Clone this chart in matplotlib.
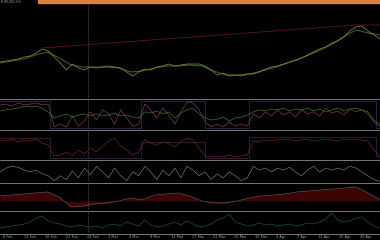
import numpy as np
from matplotlib import pyplot as plt
from matplotlib.lines import Line2D

# price (close) and moving average, main window
price = [38, 39, 40, 41, 43, 44, 47, 51, 49, 43, 37, 30, 36, 32, 30, 33,
         32, 33, 34, 33, 32, 28, 24, 28, 31, 30, 33, 34, 36, 34, 35, 36,
         36, 36, 34, 30, 25, 27, 24, 25, 24, 26, 26, 28, 31, 33, 34, 36,
         38, 40, 42, 45, 48, 51, 53, 57, 59, 63, 69, 73, 74, 69, 65, 61]
ma = [37, 39, 41, 45, 48, 42, 35, 33, 33, 33, 32, 28, 29, 32, 34, 34,
      35, 34, 29, 25, 25, 26, 29, 32, 36, 40, 45, 50, 56, 64, 70, 67, 65]
trend_x = [21, 177, 189]
trend_y = [52, 75, 75]

# stochastic-like window
stoch_green = [62, 66, 69, 72, 79, 76, 79, 72, 59, 38, 45, 52, 41, 48, 52, 45,
               52, 45, 48, 55, 45, 48, 41, 38, 59, 55, 62, 52, 59, 38, 55, 66,
               72, 52, 38, 31, 34, 41, 28, 38, 41, 48, 59, 66, 62, 69, 66, 72,
               62, 69, 66, 72, 62, 69, 59, 66, 72, 62, 69, 72, 66, 59, 31, 14]
stoch_pink = [83, 86, 79, 90, 83, 86, 90, 83, 86, 7, 17, 7, 45, 10, 28, 59,
              31, 66, 52, 17, 66, 38, 10, 17, 86, 66, 38, 72, 48, 17, 59, 93,
              90, 66, 24, 7, 17, 7, 24, 10, 17, 10, 52, 38, 59, 45, 66, 48,
              59, 41, 66, 52, 59, 45, 72, 55, 62, 48, 69, 59, 66, 52, 24, 7]
step_x = [0, 25, 25, 70, 70, 102, 102, 124, 124, 187, 187, 189]
step2_y = [97, 97, 3, 3, 97, 97, 3, 3, 97, 97, 3, 3]

# second oscillator window
osc_red = [68, 64, 71, 61, 68, 64, 71, 57, 50, 11, 14, 25, 11, 32, 18, 39,
           25, 46, 64, 75, 46, 32, 14, 25, 68, 57, 50, 61, 54, 43, 64, 75,
           68, 39, 11, 7, 11, 7, 14, 7, 11, 14, 64, 61, 68, 64, 71, 68,
           71, 64, 68, 71, 64, 68, 71, 68, 64, 71, 68, 71, 68, 64, 32, 11]
step3_y = [75, 75, 5, 5, 60, 60, 5, 5, 78, 78, 10, 10]

# rsi-like window
rsi = [48, 67, 76, 71, 57, 48, 57, 38, 29, 5, 29, 10, 52, 19, 67, 33,
       76, 48, 19, 67, 29, 5, 48, 29, 76, 48, 10, 57, 29, 67, 19, 76,
       57, 29, 48, 10, 38, 19, 48, 29, 5, 19, 76, 57, 67, 48, 67, 57,
       71, 48, 29, 57, 76, 48, 67, 57, 67, 57, 76, 67, 48, 29, 10, 0]

# macd-like window
macd = [5, 6, 7, 8, 9, 4, -6, -5, -3, -2, 0, 3, 1, 6, 7, 8,
        5, 0, -2, -2, 0, 3, 5, 6, 7, 9, 10, 11, 12, 13, 14, 8, 1]

# atr-like window
atr = [5, 6, 7, 8, 9, 11, 15, 17, 12, 10, 9, 7, 6, 8, 7, 6,
       7, 5, 8, 9, 7, 11, 9, 7, 13, 8, 6, 7, 9, 11, 8, 12,
       9, 6, 7, 9, 13, 15, 19, 11, 9, 7, 8, 10, 8, 9, 7, 8,
       9, 7, 8, 10, 9, 11, 14, 20, 13, 11, 12, 15, 16, 11, 7, 5]

date_labels = ['8 Feb', '11 Feb', '16 Feb', '21 Feb', '24 Feb', '1 Mar',
               '4 Mar', '9 Mar', '14 Mar', '17 Mar', '22 Mar', '25 Mar',
               '30 Mar', '4 Apr', '7 Apr', '12 Apr', '15 Apr', '20 Apr']
cursor_bar = 44
n_bars = 189

W, H = 380, 240
fig = plt.figure(figsize=(W / 100, H / 100), dpi=100, facecolor='black')


def panel(top, bottom):
    ax = fig.add_axes([0, 1 - bottom / H, 1, (bottom - top) / H])
    ax.set_facecolor('black')
    ax.set_axis_off()
    ax.set_xlim(0, n_bars)
    ax.axvline(cursor_bar, color='#5a5a5a', lw=0.6, ls=(0, (1, 1)))
    return ax


def xs(vals):
    return np.linspace(0, n_bars, len(vals))


# main chart
ax = panel(4, 98)
ax.set_ylim(2, 96)
ax.plot(trend_x, trend_y, color='#5e1616', lw=0.6)
ax.plot(xs(ma), ma, color='#3c6a22', lw=0.7)
ax.plot(xs(price), price, color='#8e9048', lw=0.5)

# stochastic
ax = panel(100, 129)
ax.set_ylim(0, 100)
ax.plot(step_x, step2_y, color='#3a2a5a', lw=0.5)
ax.plot(xs(stoch_pink), stoch_pink, color='#7a3a52', lw=0.5)
ax.plot(xs(stoch_green), stoch_green, color='#3f7430', lw=0.5)

# oscillator 2
ax = panel(131, 159)
ax.set_ylim(0, 100)
ax.plot(step_x, step3_y, color='#3a2458', lw=0.5)
ax.plot(xs(osc_red), osc_red, color='#6e2030', lw=0.5)

# rsi
ax = panel(161, 182)
ax.set_ylim(-2, 102)
ax.plot(xs(rsi), rsi, color='#7e6c78', lw=0.5)

# macd area
ax = panel(184, 210)
ax.set_ylim(-9, 17)
ax.fill_between(xs(macd), macd, 0, color='#3a0505', lw=0)
ax.plot(xs(macd), macd, color='#6e5050', lw=0.5)

# atr
ax = panel(212, 233)
ax.set_ylim(0, 21)
ax.plot(xs(atr), atr, color='#175a26', lw=0.5)

# panel separators
for y in [99, 130, 160, 183, 211, 234]:
    fig.add_artist(Line2D([0, 1], [1 - y / H, 1 - y / H], color='#8c8c8c', lw=0.6,
                          transform=fig.transFigure))

# top bar
fig.add_artist(plt.Rectangle((38 / W, 1 - 3 / H), 1, 3 / H, color='#d8843a',
                             transform=fig.transFigure))
fig.text(1 / W, 1 - 2 / H, 'EURUSD,H4', color='#9898a8', fontsize=2.5, va='center')

# date axis
for i, lab in enumerate(date_labels):
    fig.text((3 + i * 21) / W, 1 - 237 / H, lab, color='#98a8a8', fontsize=2.5,
             va='center')

fig.savefig('out.png', dpi=100, facecolor='black')
